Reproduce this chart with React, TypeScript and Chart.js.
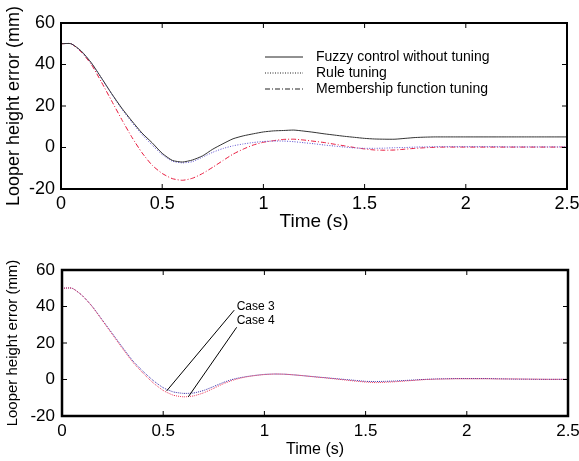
import React, { useEffect, useRef } from "react";
import { Chart, registerables } from "chart.js";

Chart.register(...registerables);

const FONT = "'Liberation Sans', Arial, Helvetica, sans-serif";

// ---- data ----
const time = [0, 0.05, 0.1, 0.15, 0.2, 0.25, 0.3, 0.35, 0.4, 0.45, 0.5, 0.55, 0.6, 0.65, 0.7, 0.75, 0.8, 0.85, 0.9, 0.95, 1, 1.05, 1.1, 1.15, 1.2, 1.25, 1.3, 1.35, 1.4, 1.45, 1.5, 1.55, 1.6, 1.65, 1.7, 1.75, 1.8, 1.85, 1.9, 1.95, 2, 2.05, 2.1, 2.15, 2.2, 2.25, 2.3, 2.35, 2.4, 2.45, 2.5];

const topSeriesNames = ["Fuzzy control without tuning", "Rule tuning", "Membership function tuning"];

const noTuning = [50, 50, 46.5, 40.8, 33.5, 26, 19, 12.8, 7, 2.3,
  -2.8, -6.2, -7, -6, -4, -0.8, 1.8, 4.2, 5.6, 6.6,
  7.5, 8, 8.2, 8.4, 7.9, 7.3, 6.6, 6, 5.4, 4.9,
  4.4, 4.1, 4, 4, 4.4, 4.8, 5, 5.1, 5.1, 5.1,
  5.1, 5.1, 5.1, 5.1, 5.1, 5.1, 5.1, 5.1, 5.1, 5.1, 5.1];

const ruleTuning = [50, 50, 46.3, 40.6, 33.3, 25.8, 18.6, 12.2, 6.3, 1.2,
  -3.4, -6.6, -7.4, -6.8, -4.6, -2.3, -0.5, 0.8, 1.7, 2.4,
  2.9, 3.1, 3.1, 2.8, 2.3, 1.8, 1.2, 0.7, 0.2, -0.2,
  -0.4, -0.4, -0.3, -0.1, 0, 0.2, 0.3, 0.4, 0.4, 0.4,
  0.4, 0.4, 0.4, 0.4, 0.3, 0.3, 0.3, 0.3, 0.3, 0.3, 0.3];

const memberTuning = [50, 50, 46, 40, 31.5, 22.5, 13.5, 5, -2.5, -8.5,
  -12.5, -15, -15.8, -14.8, -12.5, -9.5, -6.3, -3.2, -0.8, 1.2,
  2.5, 3.3, 3.9, 4, 3.6, 3, 2.4, 1.6, 0.8, 0,
  -0.7, -1.2, -1.3, -1.2, -0.8, -0.4, -0.1, 0.1, 0.2, 0.2,
  0.2, 0.2, 0.2, 0.2, 0.2, 0.2, 0.2, 0.2, 0.2, 0.2, 0.2];

const caseNames = ["Case 3", "Case 4"];

const case3 = [50, 50, 46, 40, 32.5, 25, 17.5, 10.2, 4.5, -0.5,
  -4.5, -6.8, -7.6, -7.4, -6, -3.8, -1.5, 0.3, 1.4, 2.2,
  2.8, 3, 2.9, 2.5, 2, 1.5, 1, 0.5, 0, -0.5,
  -1, -1.1, -1, -0.8, -0.5, -0.2, 0.1, 0.3, 0.4, 0.5,
  0.5, 0.5, 0.5, 0.4, 0.3, 0.2, 0.2, 0.1, 0.1, 0.1, 0.1];

const case4 = [50, 50, 46, 39.8, 32.2, 24.5, 16.8, 9.5, 3.5, -1.8,
  -6, -8.6, -9.5, -9, -7.3, -4.8, -2.2, -0.2, 1.2, 2.1,
  2.7, 3, 2.9, 2.5, 2, 1.4, 0.9, 0.3, -0.3, -0.9,
  -1.4, -1.7, -1.5, -1.2, -0.8, -0.4, 0, 0.2, 0.3, 0.4,
  0.4, 0.4, 0.4, 0.3, 0.3, 0.3, 0.2, 0.2, 0.1, 0.1, 0.1];

// annotation: [textX, textY, pointerX, pointerY, lineStartX, lineStartY]
const caseLabelPos = [
  [0.863, 39.7],
  [0.863, 32.1],
];
const caseLineStart = [
  [0.851, 38.0],
  [0.863, 28.6],
];
const caseLineEnd = [
  [0.517, -6.25],
  [0.624, -9.5],
];

const xTicks = { min: 0, max: 2.5, step: 0.5 };
const yTicks = { min: -20, max: 60, step: 20 };

const toPts = (vals: number[]) => time.map((t, i) => ({ x: t, y: vals[i] }));

function framePlugin(lw: number, tl: number) {
  return {
    id: "frameTicks",
    afterDatasetsDraw(chart: any) {
      const { ctx, chartArea: a, scales } = chart;
      ctx.save();
      ctx.strokeStyle = "#000";
      ctx.lineWidth = 1;
      ctx.setLineDash([]);
      scales.x.ticks.forEach((t: any) => {
        const px = scales.x.getPixelForValue(t.value);
        ctx.beginPath();
        ctx.moveTo(px, a.bottom);
        ctx.lineTo(px, a.bottom - tl);
        ctx.moveTo(px, a.top);
        ctx.lineTo(px, a.top + tl);
        ctx.stroke();
      });
      scales.y.ticks.forEach((t: any) => {
        const py = scales.y.getPixelForValue(t.value);
        ctx.beginPath();
        ctx.moveTo(a.left, py);
        ctx.lineTo(a.left + tl, py);
        ctx.moveTo(a.right, py);
        ctx.lineTo(a.right - tl, py);
        ctx.stroke();
      });
      ctx.lineWidth = lw;
      ctx.strokeRect(a.left, a.top, a.right - a.left, a.bottom - a.top);
      ctx.restore();
    },
  };
}

const legendPlugin = {
  id: "innerLegend",
  afterDatasetsDraw(chart: any) {
    const { ctx } = chart;
    ctx.save();
    ctx.font = `14px ${FONT}`;
    ctx.textBaseline = "middle";
    ctx.fillStyle = "#000";
    chart.data.datasets.forEach((ds: any, i: number) => {
      const y = 57 + i * 16;
      ctx.strokeStyle = "#222";
      ctx.lineWidth = 1;
      ctx.setLineDash(ds.borderDash || []);
      ctx.beginPath();
      ctx.moveTo(265, y);
      ctx.lineTo(303, y);
      ctx.stroke();
      ctx.setLineDash([]);
      ctx.fillText(ds.label, 316, y);
    });
    ctx.restore();
  },
};

const casePlugin = {
  id: "caseNotes",
  afterDatasetsDraw(chart: any) {
    const { ctx, scales } = chart;
    const X = (v: number) => scales.x.getPixelForValue(v);
    const Y = (v: number) => scales.y.getPixelForValue(v);
    ctx.save();
    ctx.strokeStyle = "#000";
    ctx.lineWidth = 1;
    ctx.setLineDash([]);
    caseNames.forEach((name, i) => {
      ctx.beginPath();
      ctx.moveTo(X(caseLineStart[i][0]), Y(caseLineStart[i][1]));
      ctx.lineTo(X(caseLineEnd[i][0]), Y(caseLineEnd[i][1]));
      ctx.stroke();
      ctx.font = `12px ${FONT}`;
      ctx.fillStyle = "#000";
      ctx.textBaseline = "middle";
      ctx.textAlign = "left";
      ctx.fillText(name, X(caseLabelPos[i][0]), Y(caseLabelPos[i][1]));
    });
    ctx.restore();
  },
};

function buildOptions(p: {
  padTop: number; padRight: number; yWidth: number; xHeight: number;
  tickFont: number; xTickPad: number; yTickPad: number;
  xTitleFont: number; xTitleLH: number; xTitlePadBottom: number;
  yTitleFont: number; yTitlePadTop: number;
}) {
  const fmt = (v: any) => String(Math.round(Number(v) * 10) / 10);
  return {
    responsive: false,
    animation: false,
    events: [],
    layout: { padding: { left: 0, right: p.padRight, top: p.padTop, bottom: 0 } },
    plugins: { legend: { display: false }, tooltip: { enabled: false } },
    scales: {
      x: {
        type: "linear",
        min: xTicks.min,
        max: xTicks.max,
        ticks: {
          stepSize: xTicks.step,
          padding: p.xTickPad,
          color: "#000",
          font: { family: FONT, size: p.tickFont },
          maxRotation: 0,
          autoSkip: false,
          callback: fmt,
        },
        grid: { display: false, drawTicks: false },
        border: { display: false },
        title: {
          display: true,
          text: "Time (s)",
          color: "#000",
          font: { family: FONT, size: p.xTitleFont, lineHeight: p.xTitleLH },
          padding: { top: 0, bottom: p.xTitlePadBottom },
        },
        afterFit(s: any) {
          s.height = p.xHeight;
          s.paddingLeft = 0;
          s.paddingRight = 0;
        },
      },
      y: {
        type: "linear",
        min: yTicks.min,
        max: yTicks.max,
        ticks: {
          stepSize: yTicks.step,
          padding: p.yTickPad,
          color: "#000",
          font: { family: FONT, size: p.tickFont },
          callback: fmt,
        },
        grid: { display: false, drawTicks: false },
        border: { display: false },
        title: {
          display: true,
          text: "Looper height error (mm)",
          color: "#000",
          font: { family: FONT, size: p.yTitleFont },
          padding: { top: p.yTitlePadTop, bottom: 0 },
        },
        afterFit(s: any) {
          s.width = p.yWidth;
          s.paddingTop = 0;
          s.paddingBottom = 0;
        },
      },
    },
  } as any;
}

function TopChart() {
  const ref = useRef<HTMLCanvasElement>(null);
  useEffect(() => {
    const chart = new Chart(ref.current as HTMLCanvasElement, {
      type: "line",
      data: {
        datasets: [
          { label: topSeriesNames[0], data: toPts(noTuning), borderColor: "#333333", borderWidth: 1, pointRadius: 0, tension: 0.2 },
          { label: topSeriesNames[1], data: toPts(ruleTuning), borderColor: "#5b4fd0", borderWidth: 1, borderDash: [1, 1.5], pointRadius: 0, tension: 0.2 },
          { label: topSeriesNames[2], data: toPts(memberTuning), borderColor: "#e8183c", borderWidth: 1, borderDash: [5, 2, 1, 2], pointRadius: 0, tension: 0.2 },
        ],
      },
      options: buildOptions({
        padTop: 23, padRight: 12, yWidth: 61, xHeight: 41,
        tickFont: 18, xTickPad: 4, yTickPad: 6,
        xTitleFont: 19, xTitleLH: 1, xTitlePadBottom: -1,
        yTitleFont: 18, yTitlePadTop: 3,
      }),
      plugins: [framePlugin(2, 5), legendPlugin],
    } as any);
    return () => chart.destroy();
  }, []);
  return <canvas ref={ref} width={579} height={230} style={{ display: "block" }} />;
}

function BottomChart() {
  const ref = useRef<HTMLCanvasElement>(null);
  useEffect(() => {
    const chart = new Chart(ref.current as HTMLCanvasElement, {
      type: "line",
      data: {
        datasets: [
          { label: caseNames[1], data: toPts(case4), borderColor: "#ec3a5e", borderWidth: 1, borderDash: [1, 1], pointRadius: 0, tension: 0.2 },
          { label: caseNames[0], data: toPts(case3), borderColor: "#3a2fa8", borderWidth: 1, borderDash: [1, 1], pointRadius: 0, tension: 0.2 },
        ],
      },
      options: buildOptions({
        padTop: 40, padRight: 11, yWidth: 62, xHeight: 45,
        tickFont: 17, xTickPad: 5, yTickPad: 7,
        xTitleFont: 16, xTitleLH: 1.2, xTitlePadBottom: 2,
        yTitleFont: 15, yTitlePadTop: 4,
      }),
      plugins: [framePlugin(2.5, 5), casePlugin],
    } as any);
    return () => chart.destroy();
  }, []);
  return <canvas ref={ref} width={579} height={231} style={{ display: "block" }} />;
}

export default function App() {
  return (
    <div style={{ position: "fixed", left: 0, top: 0, width: 579, height: 461, background: "#fff" }}>
      <TopChart />
      <BottomChart />
    </div>
  );
}
